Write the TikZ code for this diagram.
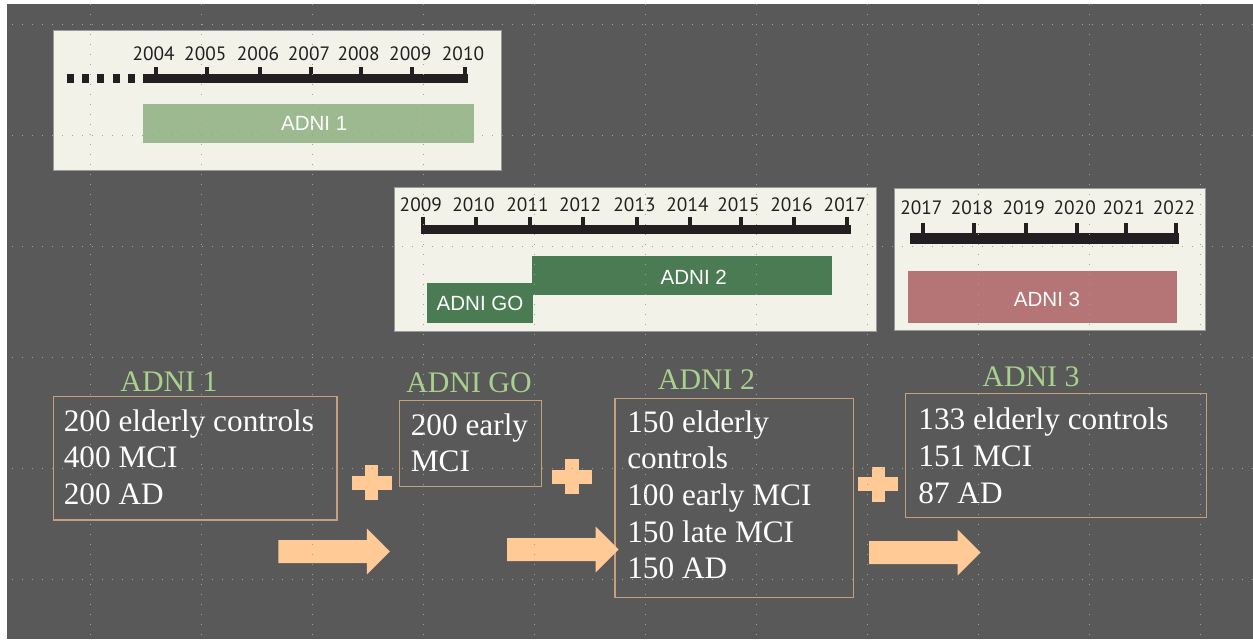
\documentclass[tikz,border=0pt]{standalone}
\usepackage{fontspec}
\setmainfont{Liberation Serif}
\newfontfamily\timelinefont{Liberation Sans}
\newfontfamily\yearfont{PT Sans}

\definecolor{slidebg}{HTML}{595959}
\definecolor{panelbg}{HTML}{F2F2E8}
\definecolor{panelrim}{HTML}{9A9A9A}
\definecolor{tlbar}{HTML}{231F20}
\definecolor{adnione}{HTML}{9CB98F}
\definecolor{adnitwo}{HTML}{4A7B53}
\definecolor{adnithree}{HTML}{B57476}
\definecolor{phasegreen}{HTML}{A9D18E}
\definecolor{boxrim}{HTML}{C4A07C}
\definecolor{peach}{HTML}{FFCA96}
\definecolor{gridgray}{HTML}{A0A0A0}

\begin{document}
\begin{tikzpicture}[x=0.02cm, y=-0.02cm,
    year/.style={anchor=base, inner sep=0, text=tlbar, font=\yearfont\fontsize{11}{13}\selectfont},
    barlabel/.style={anchor=base, inner sep=0, text=white, font=\timelinefont\fontsize{11.7}{14}\selectfont},
    phase/.style={anchor=base, inner sep=0, text=phasegreen, font=\fontsize{17}{20}\selectfont},
    boxtext/.style={anchor=north west, inner sep=0, align=left, text=white, font=\fontsize{17.8}{20.9}\selectfont},
    boxline/.style={draw=boxrim, line width=0.8pt},
    panel/.style={fill=panelbg, draw=panelrim, line width=0.4pt},
    gridline/.style={draw=gridgray, line width=0.8pt, dash pattern=on 0.8pt off 4.89pt}]
    \useasboundingbox (0,0) rectangle (1253,639);

    % slide background
    \fill[white] (0,0) rectangle (1253,639);
    \fill[slidebg] (7,4) rectangle (1253,639);

    % timeline panels
    \path[panel] (53.3,30) rectangle (501.7,170);
    \path[panel] (394,187.3) rectangle (876,331.7);
    \path[panel] (894.3,188.3) rectangle (1205,330);

    % panel 1: 2004 - 2010
    \foreach \sx in {66.7,81.7,96.7,112.7,127.7}{
        \fill[tlbar] (\sx,74) rectangle (\sx+7.5,82.7);
    }
    \fill[tlbar] (143,74) rectangle (468,82.7);
    \foreach \x [count=\i from 2004] in {155.7,207.3,260,311,360.7,412.3,465}{
        \fill[tlbar] (\x-2,66.7) rectangle (\x+2,75);
        \node[year] (pa\i) at (\x-2,60) {\i};
    }
    \fill[adnione] (143.3,104) rectangle (474,143.3);
    \node[barlabel] (bar1) at (314.2,130) {ADNI 1};

    % panel 2: 2009 - 2017
    \fill[tlbar] (420.7,225) rectangle (850.7,234);
    \foreach \x [count=\i from 2009] in {423.3,476,530,582.7,637,690,741,794,847.3}{
        \fill[tlbar] (\x-2,217.3) rectangle (\x+2,226);
        \node[year] (pb\i) at (\x-2.5,211.7) {\i};
    }
    \fill[adnitwo] (531.7,255.7) rectangle (831.7,295);
    \fill[adnitwo] (426.7,283.3) rectangle (533.3,323.3);
    \node[barlabel] (bar2) at (693.8,284) {ADNI 2};
    \node[barlabel] (bargo) at (480,310.7) {ADNI GO};

    % panel 3: 2017 - 2022
    \fill[tlbar] (910,233) rectangle (1179,244);
    \foreach \x [count=\i from 2017] in {923.3,974,1025.7,1076.7,1125.7,1176}{
        \fill[tlbar] (\x-2,222.7) rectangle (\x+2,234);
        \node[year] (pc\i) at (\x-2,214) {\i};
    }
    \fill[adnithree] (908.3,270.7) rectangle (1176.7,323.3);
    \node[barlabel] (bar3) at (1047,306.7) {ADNI 3};

    % cohort boxes
    \draw[boxline] (53.3,396.7) rectangle (337,520);
    \draw[boxline] (399.3,400.7) rectangle (541.7,486.7);
    \draw[boxline] (615,398.3) rectangle (853.7,597.3);
    \draw[boxline] (905.3,393.7) rectangle (1206.7,517.7);

    \node[phase] (head1) at (169,391.8) {ADNI 1};
    \node[phase] (headgo) at (469,392.3) {ADNI GO};
    \node[phase] (head2) at (706.5,389.3) {ADNI 2};
    \node[phase] (head3) at (1031,386) {ADNI 3};

    \node[boxtext] (grp1) at (63.5,409) {200 elderly controls\\400 MCI\\200 AD};
    \node[boxtext] (grpgo) at (410.5,413) {200 early\\MCI};
    \node[boxtext] (grp2) at (627,410) {150 elderly\\controls\\100 early MCI\\150 late MCI\\150 AD};
    \node[boxtext] (grp3) at (918,407.5) {133 elderly controls\\151 MCI\\87 AD};

    % plus signs
    \foreach \cx/\cy in {371.7/482.5, 572/476.7, 878.3/484}{
        \fill[peach] (\cx-20,\cy-7) rectangle (\cx+20,\cy+7);
        \fill[peach] (\cx-6.7,\cy-17.5) rectangle (\cx+6.7,\cy+17.5);
    }

    % block arrows
    \foreach \ax/\ay in {278.3/551.5, 507/549.5, 869/552.5}{
        \fill[peach] (\ax,\ay-11.5) -- ++(88.5,0) -- ++(0,-11.5) -- ++(23,23)
            -- ++(-23,23) -- ++(0,-11.5) -- ++(-88.5,0) -- cycle;
    }

    % slide grid
    \foreach \gx in {0,...,10}{
        \draw[gridline] (90.7+111*\gx,4) -- (90.7+111*\gx,639);
    }
    \foreach \gy in {0,...,5}{
        \draw[gridline] (12,24.3+111*\gy) -- (1253,24.3+111*\gy);
    }
\end{tikzpicture}
\end{document}
